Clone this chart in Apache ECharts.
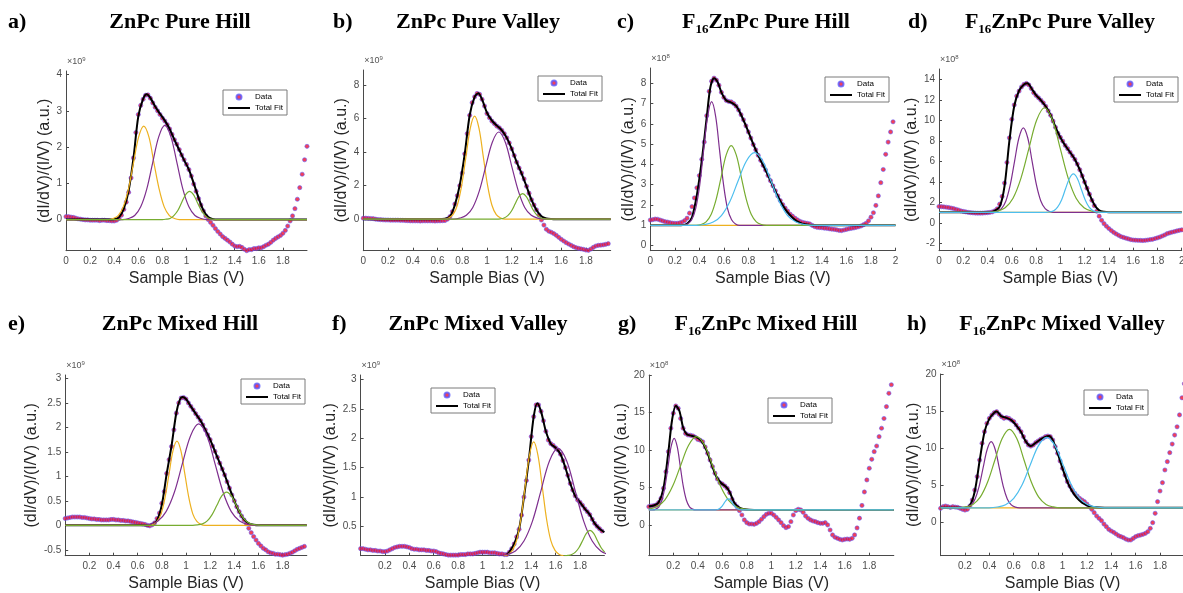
<!DOCTYPE html>
<html>
<head>
<meta charset="utf-8">
<title>ZnPc / F16ZnPc normalized dI/dV fits</title>
<script src="https://cdn.jsdelivr.net/npm/echarts@6.0.0/dist/echarts.min.js"></script>
<style>
  html, body { margin: 0; padding: 0; background: #fff; }
  #chart { width: 1183px; height: 593px; }
</style>
</head>
<body>
<div id="chart"></div>
<script>
// sample bias (V), shared by all measured spectra
const bias = [
  0.00, 0.02, 0.04, 0.06, 0.08, 0.10, 0.12, 0.14, 0.16, 0.18,
  0.20, 0.22, 0.24, 0.26, 0.28, 0.30, 0.32, 0.34, 0.36, 0.38,
  0.40, 0.42, 0.44, 0.46, 0.48, 0.50, 0.52, 0.54, 0.56, 0.58,
  0.60, 0.62, 0.64, 0.66, 0.68, 0.70, 0.72, 0.74, 0.76, 0.78,
  0.80, 0.82, 0.84, 0.86, 0.88, 0.90, 0.92, 0.94, 0.96, 0.98,
  1.00, 1.02, 1.04, 1.06, 1.08, 1.10, 1.12, 1.14, 1.16, 1.18,
  1.20, 1.22, 1.24, 1.26, 1.28, 1.30, 1.32, 1.34, 1.36, 1.38,
  1.40, 1.42, 1.44, 1.46, 1.48, 1.50, 1.52, 1.54, 1.56, 1.58,
  1.60, 1.62, 1.64, 1.66, 1.68, 1.70, 1.72, 1.74, 1.76, 1.78,
  1.80, 1.82, 1.84, 1.86, 1.88, 1.90, 1.92, 1.94, 1.96, 1.98,
  2.00
];

// a) ZnPc Pure Hill (x1e9)
const dataA = [
  0.08, 0.08, 0.07, 0.06, 0.04, 0.02, 0.01, 0.00, -0.01, -0.01,
  -0.02, -0.02, -0.02, -0.02, -0.03, -0.02, -0.02, -0.03, -0.03, -0.04,
  -0.04, -0.02, 0.03, 0.12, 0.28, 0.48, 0.75, 1.15, 1.7, 2.4,
  2.9, 3.15, 3.32, 3.43, 3.44, 3.35, 3.22, 3.1, 3.0, 2.9,
  2.8, 2.72, 2.62, 2.5, 2.35, 2.2, 2.08, 1.93, 1.78, 1.65,
  1.52, 1.38, 1.2, 0.98, 0.78, 0.58, 0.4, 0.24, 0.1, 0.0,
  -0.08, -0.16, -0.25, -0.33, -0.4, -0.47, -0.52, -0.57, -0.62, -0.68,
  -0.73, -0.75, -0.74, -0.77, -0.82, -0.86, -0.83, -0.83, -0.8, -0.8,
  -0.78, -0.78, -0.75, -0.71, -0.68, -0.63, -0.57, -0.52, -0.48, -0.44,
  -0.38, -0.3, -0.18, -0.04, 0.1, 0.3, 0.56, 0.88, 1.25, 1.65,
  2.02
];
const fitA = [[0, 0], [0.36, 0], [0.4, 0.01], [0.44, 0.06], [0.48, 0.3], [0.52, 0.8], [0.56, 1.7], [0.6, 2.85], [0.64, 3.33], [0.67, 3.46], [0.7, 3.36], [0.74, 3.12], [0.78, 2.92], [0.82, 2.73], [0.86, 2.5], [0.9, 2.2], [0.94, 1.92], [0.98, 1.64], [1.02, 1.38], [1.06, 1.0], [1.1, 0.6], [1.14, 0.26], [1.18, 0.07], [1.22, 0.01], [1.26, 0], [2, 0]];
const orangeA = [[0, 0], [0.35, 0], [0.39, 0.03], [0.433, 0.11], [0.475, 0.35], [0.518, 0.84], [0.56, 1.56], [0.603, 2.28], [0.645, 2.58], [0.688, 2.28], [0.73, 1.56], [0.773, 0.84], [0.815, 0.35], [0.858, 0.11], [0.9, 0.03], [0.94, 0], [2, 0]];
const purpleA = [[0, 0], [0.47, 0], [0.52, 0.03], [0.57, 0.11], [0.62, 0.35], [0.67, 0.84], [0.72, 1.58], [0.77, 2.29], [0.82, 2.6], [0.87, 2.29], [0.92, 1.58], [0.97, 0.84], [1.02, 0.35], [1.07, 0.11], [1.12, 0.03], [1.17, 0], [2, 0]];
const greenA = [[0, 0], [0.8, 0], [0.83, 0.01], [0.863, 0.03], [0.895, 0.11], [0.928, 0.25], [0.96, 0.47], [0.993, 0.69], [1.025, 0.78], [1.058, 0.69], [1.09, 0.47], [1.123, 0.25], [1.155, 0.11], [1.188, 0.03], [1.22, 0.01], [1.25, 0], [2, 0]];

// b) ZnPc Pure Valley (x1e9)
const dataB = [
  0.06, 0.06, 0.05, 0.04, 0.03, 0.0, -0.02, -0.03, -0.04, -0.05,
  -0.05, -0.06, -0.06, -0.06, -0.06, -0.07, -0.07, -0.08, -0.09, -0.1,
  -0.1, -0.1, -0.1, -0.11, -0.1, -0.1, -0.1, -0.1, -0.1, -0.11,
  -0.1, -0.1, -0.09, -0.08, 0.0, 0.15, 0.45, 0.9, 1.4, 2.0,
  2.75, 3.9, 5.1, 6.2, 6.95, 7.3, 7.5, 7.45, 7.15, 6.75,
  6.3, 6.05, 5.85, 5.7, 5.55, 5.45, 5.3, 5.1, 4.85, 4.55,
  4.2, 3.8, 3.4, 3.05, 2.75, 2.4, 1.96, 1.55, 1.16, 0.85,
  0.56, 0.25, -0.05, -0.35, -0.6, -0.72, -0.78, -0.86, -0.96, -1.08,
  -1.2, -1.3, -1.4, -1.48, -1.56, -1.64, -1.7, -1.74, -1.77, -1.8,
  -1.84, -1.86, -1.78, -1.68, -1.6, -1.56, -1.55, -1.53, -1.5, -1.46,
  null
];
const fitB = [[0, 0], [0.6, 0], [0.66, 0.02], [0.7, 0.15], [0.74, 0.85], [0.78, 2.05], [0.82, 3.9], [0.86, 6.2], [0.9, 7.3], [0.93, 7.52], [0.96, 7.15], [1.0, 6.35], [1.04, 5.88], [1.08, 5.58], [1.12, 5.3], [1.16, 4.85], [1.2, 4.2], [1.24, 3.4], [1.28, 2.72], [1.32, 1.95], [1.36, 1.15], [1.4, 0.55], [1.44, 0.18], [1.48, 0.05], [1.52, 0.01], [1.56, 0], [2, 0]];
const orangeB = [[0, 0], [0.655, 0], [0.69, 0.07], [0.725, 0.27], [0.76, 0.83], [0.795, 2.0], [0.83, 3.73], [0.865, 5.43], [0.9, 6.15], [0.935, 5.43], [0.97, 3.73], [1.005, 2.0], [1.04, 0.83], [1.075, 0.27], [1.11, 0.07], [1.145, 0], [2, 0]];
const purpleB = [[0, 0], [0.728, 0], [0.78, 0.06], [0.833, 0.23], [0.885, 0.7], [0.938, 1.69], [0.99, 3.15], [1.043, 4.59], [1.095, 5.2], [1.148, 4.59], [1.2, 3.15], [1.253, 1.69], [1.305, 0.7], [1.358, 0.23], [1.41, 0.06], [1.463, 0], [2, 0]];
const greenB = [[0, 0], [1.078, 0], [1.108, 0.02], [1.138, 0.07], [1.168, 0.21], [1.198, 0.49], [1.228, 0.92], [1.258, 1.34], [1.288, 1.52], [1.318, 1.34], [1.348, 0.92], [1.378, 0.49], [1.408, 0.21], [1.438, 0.07], [1.468, 0.02], [1.498, 0], [2, 0]];

// c) F16ZnPc Pure Hill (x1e8)
const dataC = [
  1.26, 1.28, 1.31, 1.3, 1.26, 1.22, 1.18, 1.16, 1.13, 1.11,
  1.1, 1.1, 1.12, 1.16, 1.23, 1.35, 1.6, 1.92, 2.35, 2.85,
  3.45, 4.25, 5.1, 6.4, 7.6, 8.1, 8.25, 8.15, 7.9, 7.55,
  7.3, 7.15, 7.1, 7.08, 7.0, 6.87, 6.68, 6.45, 6.2, 5.9,
  5.6, 5.3, 4.98, 4.72, 4.45, 4.2, 3.95, 3.72, 3.45, 3.2,
  2.95, 2.7, 2.45, 2.22, 2.02, 1.85, 1.7, 1.55, 1.45, 1.35,
  1.27, 1.2, 1.15, 1.12, 1.1, 1.07, 1.0, 0.94, 0.9, 0.89,
  0.88, 0.86, 0.85, 0.83, 0.81, 0.8, 0.78, 0.75, 0.74, 0.77,
  0.8, 0.83, 0.85, 0.87, 0.9, 0.93, 0.97, 1.03, 1.1, 1.22,
  1.4, 1.62, 1.98, 2.45, 3.1, 3.75, 4.5, 5.1, 5.6, 6.1,
  null
];
const fitC = [[0, 1], [0.25, 1.0], [0.3, 1.08], [0.34, 1.4], [0.38, 2.5], [0.42, 4.2], [0.46, 6.3], [0.49, 7.8], [0.52, 8.25], [0.55, 8.05], [0.58, 7.55], [0.62, 7.15], [0.66, 7.05], [0.7, 6.88], [0.74, 6.45], [0.78, 5.9], [0.82, 5.3], [0.86, 4.72], [0.9, 4.2], [0.94, 3.72], [0.98, 3.2], [1.02, 2.68], [1.06, 2.2], [1.1, 1.8], [1.14, 1.5], [1.18, 1.27], [1.22, 1.13], [1.26, 1.05], [1.3, 1.02], [1.35, 1.0], [2, 1]];
const orangeC = [[0, 1], [2, 1]];
const purpleC = [[0, 1], [0.27, 1], [0.305, 1.07], [0.338, 1.27], [0.37, 1.82], [0.403, 2.98], [0.435, 4.69], [0.468, 6.37], [0.5, 7.09], [0.533, 6.37], [0.565, 4.69], [0.598, 2.98], [0.63, 1.82], [0.663, 1.27], [0.695, 1.07], [0.73, 1], [2, 1]];
const greenC = [[0, 1], [0.373, 1], [0.414, 1.04], [0.455, 1.17], [0.496, 1.53], [0.537, 2.28], [0.578, 3.38], [0.619, 4.47], [0.66, 4.93], [0.701, 4.47], [0.742, 3.38], [0.783, 2.28], [0.824, 1.53], [0.865, 1.17], [0.906, 1.04], [0.947, 1], [2, 1]];
const cyanC = [[0, 1], [0.378, 1], [0.445, 1.04], [0.513, 1.16], [0.58, 1.48], [0.648, 2.16], [0.715, 3.17], [0.783, 4.16], [0.85, 4.58], [0.918, 4.16], [0.985, 3.17], [1.053, 2.16], [1.12, 1.48], [1.188, 1.16], [1.255, 1.04], [1.323, 1], [2, 1]];

// d) F16ZnPc Pure Valley (x1e8)
const dataD = [
  1.62, 1.6, 1.58, 1.55, 1.52, 1.47, 1.42, 1.35, 1.28, 1.2,
  1.14, 1.1, 1.05, 1.02, 1.0, 0.98, 0.97, 0.97, 0.98, 1.0,
  1.02, 1.05, 1.1, 1.2, 1.4, 1.85, 2.6, 3.9, 5.9, 8.3,
  10.1, 11.5, 12.37, 12.85, 13.25, 13.5, 13.6, 13.45, 13.1, 12.7,
  12.42, 12.2, 11.96, 11.7, 11.36, 10.93, 10.5, 9.93, 9.33, 8.74,
  8.35, 7.98, 7.56, 7.25, 6.9, 6.55, 6.2, 5.75, 5.2, 4.6,
  4.0, 3.4, 2.82, 2.22, 1.7, 1.16, 0.68, 0.28, -0.05, -0.3,
  -0.52, -0.72, -0.9, -1.05, -1.18, -1.31, -1.39, -1.46, -1.53, -1.6,
  -1.64, -1.66, -1.67, -1.68, -1.69, -1.67, -1.64, -1.6, -1.57, -1.5,
  -1.43, -1.35, -1.25, -1.15, -1.02, -0.95, -0.88, -0.82, -0.76, -0.7,
  -0.65
];
const fitD = [[0, 1.05], [0.4, 1.05], [0.45, 1.15], [0.5, 1.6], [0.54, 3.6], [0.58, 8.0], [0.62, 11.4], [0.66, 12.9], [0.7, 13.5], [0.73, 13.62], [0.76, 13.15], [0.8, 12.45], [0.84, 11.95], [0.88, 11.35], [0.92, 10.5], [0.96, 9.35], [1.0, 8.35], [1.04, 7.55], [1.08, 6.9], [1.12, 6.2], [1.16, 5.2], [1.2, 4.0], [1.24, 2.8], [1.28, 1.8], [1.32, 1.25], [1.36, 1.1], [1.4, 1.06], [2, 1.05]];
const orangeD = [[0, 1.05], [2, 1.05]];
const purpleD = [[0, 1.05], [0.443, 1.05], [0.479, 1.14], [0.515, 1.41], [0.551, 2.16], [0.587, 3.72], [0.623, 6.04], [0.659, 8.31], [0.695, 9.28], [0.731, 8.31], [0.767, 6.04], [0.803, 3.72], [0.839, 2.16], [0.875, 1.41], [0.911, 1.14], [0.947, 1.05], [2, 1.05]];
const greenD = [[0, 1.05], [0.415, 1.05], [0.48, 1.16], [0.545, 1.5], [0.61, 2.43], [0.675, 4.36], [0.74, 7.22], [0.805, 10.03], [0.87, 11.23], [0.935, 10.03], [1.0, 7.22], [1.065, 4.36], [1.13, 2.43], [1.195, 1.5], [1.26, 1.16], [1.325, 1.05], [2, 1.05]];
const cyanD = [[0, 1.05], [0.88, 1.05], [0.912, 1.09], [0.945, 1.21], [0.977, 1.56], [1.01, 2.26], [1.042, 3.32], [1.075, 4.35], [1.107, 4.79], [1.14, 4.35], [1.172, 3.32], [1.205, 2.26], [1.237, 1.56], [1.27, 1.21], [1.302, 1.09], [1.335, 1.05], [2, 1.05]];

// e) ZnPc Mixed Hill (x1e9)
const dataE = [
  0.14, 0.15, 0.16, 0.17, 0.17, 0.17, 0.17, 0.16, 0.16, 0.15,
  0.14, 0.13, 0.13, 0.12, 0.12, 0.11, 0.11, 0.11, 0.11, 0.12,
  0.12, 0.11, 0.11, 0.1, 0.1, 0.09, 0.09, 0.08, 0.07, 0.06,
  0.05, 0.04, 0.03, 0.02, 0.0, -0.01, 0.01, 0.05, 0.14, 0.25,
  0.45, 0.69, 1.06, 1.34, 1.61, 1.95, 2.29, 2.5, 2.6, 2.61,
  2.58, 2.5, 2.43, 2.36, 2.28, 2.21, 2.14, 2.05, 1.95, 1.85,
  1.75, 1.62, 1.51, 1.39, 1.27, 1.15, 1.03, 0.89, 0.76, 0.62,
  0.5, 0.38, 0.28, 0.19, 0.11, 0.03, -0.06, -0.15, -0.23, -0.3,
  -0.37, -0.42, -0.47, -0.5, -0.54, -0.56, -0.57, -0.59, -0.59, -0.6,
  -0.61, -0.6, -0.59, -0.57, -0.55, -0.52, -0.49, -0.47, -0.45, -0.43,
  null
];
const fitE = [[0, 0], [0.68, 0], [0.72, 0.02], [0.76, 0.1], [0.8, 0.42], [0.84, 1.05], [0.88, 1.62], [0.92, 2.3], [0.95, 2.57], [0.97, 2.62], [1.0, 2.58], [1.04, 2.43], [1.08, 2.28], [1.12, 2.14], [1.16, 1.95], [1.2, 1.75], [1.24, 1.51], [1.28, 1.27], [1.32, 1.03], [1.36, 0.76], [1.4, 0.5], [1.44, 0.28], [1.48, 0.12], [1.52, 0.04], [1.56, 0.01], [1.6, 0], [2, 0]];
const orangeE = [[0, 0], [0.694, 0], [0.727, 0.02], [0.76, 0.08], [0.793, 0.23], [0.826, 0.56], [0.859, 1.04], [0.892, 1.52], [0.925, 1.72], [0.958, 1.52], [0.991, 1.04], [1.024, 0.56], [1.057, 0.23], [1.09, 0.08], [1.123, 0.02], [1.156, 0], [2, 0]];
const purpleE = [[0, 0], [0.633, 0], [0.7, 0.02], [0.768, 0.09], [0.835, 0.28], [0.903, 0.67], [0.97, 1.26], [1.038, 1.83], [1.105, 2.07], [1.173, 1.83], [1.24, 1.26], [1.308, 0.67], [1.375, 0.28], [1.443, 0.09], [1.51, 0.02], [1.578, 0], [2, 0]];
const greenE = [[0, 0], [1.056, 0], [1.096, 0.01], [1.136, 0.03], [1.176, 0.09], [1.216, 0.22], [1.256, 0.41], [1.296, 0.6], [1.336, 0.68], [1.376, 0.6], [1.416, 0.41], [1.456, 0.22], [1.496, 0.09], [1.536, 0.03], [1.576, 0.01], [1.616, 0], [2, 0]];

// f) ZnPc Mixed Valley (x1e9)
const dataF = [
  0.12, 0.12, 0.11, 0.1, 0.1, 0.09, 0.09, 0.08, 0.08, 0.07,
  0.07, 0.08, 0.1, 0.12, 0.14, 0.15, 0.16, 0.16, 0.16, 0.15,
  0.14, 0.12, 0.11, 0.11, 0.1, 0.1, 0.1, 0.09, 0.09, 0.08,
  0.08, 0.07, 0.05, 0.04, 0.03, 0.02, 0.01, 0.01, 0.01, 0.01,
  0.01, 0.02, 0.02, 0.02, 0.03, 0.03, 0.03, 0.04, 0.05, 0.06,
  0.06, 0.06, 0.06, 0.05, 0.05, 0.05, 0.04, 0.03, 0.03, 0.02,
  0.02, 0.06, 0.12, 0.2, 0.32, 0.45, 0.69, 1.0, 1.28, 1.63,
  2.03, 2.37, 2.57, 2.57, 2.46, 2.3, 2.12, 1.97, 1.91, 1.88,
  1.84, 1.8, 1.73, 1.62, 1.5, 1.37, 1.23, 1.12, 1.02, 0.95,
  0.91, 0.86, 0.8, 0.75, 0.7, 0.62, 0.55, 0.5, 0.46, 0.42,
  null
];
const fitF = [[1.2, 0.02], [1.22, 0.06], [1.26, 0.2], [1.3, 0.45], [1.34, 1.0], [1.38, 1.63], [1.42, 2.37], [1.45, 2.6], [1.48, 2.46], [1.52, 2.12], [1.56, 1.91], [1.6, 1.84], [1.64, 1.73], [1.68, 1.5], [1.72, 1.23], [1.76, 1.02], [1.8, 0.91], [1.84, 0.8], [1.88, 0.7], [1.92, 0.55], [1.96, 0.46], [2, 0.4]];
const orangeF = [[1.175, 0], [1.21, 0.02], [1.245, 0.09], [1.28, 0.26], [1.315, 0.63], [1.35, 1.18], [1.385, 1.71], [1.42, 1.94], [1.455, 1.71], [1.49, 1.18], [1.525, 0.63], [1.56, 0.26], [1.595, 0.09], [1.63, 0.02], [1.665, 0]];
const purpleF = [[1.13, 0], [1.2, 0.02], [1.27, 0.08], [1.34, 0.25], [1.41, 0.59], [1.48, 1.11], [1.55, 1.62], [1.62, 1.83], [1.69, 1.62], [1.76, 1.11], [1.83, 0.59], [1.9, 0.25], [1.97, 0.08], [2.04, 0.02]];
const greenF = [[1.67, 0], [1.702, 0.005], [1.732, 0.02], [1.762, 0.06], [1.792, 0.14], [1.822, 0.26], [1.852, 0.38], [1.882, 0.43], [1.912, 0.38], [1.942, 0.26], [1.972, 0.14], [2.002, 0.06]];

// g) F16ZnPc Mixed Hill (x1e8)
const dataG = [
  2.44, 2.53, 2.58, 2.67, 2.98, 3.56, 4.89, 7.1, 9.78, 12.9,
  14.9, 15.87, 15.56, 14.2, 12.9, 12.2, 12.0, 11.96, 11.87, 11.7,
  11.4, 11.3, 11.1, 10.4, 9.56, 8.67, 7.78, 6.9, 6.13, 5.64,
  5.47, 5.2, 4.89, 4.31, 3.42, 2.8, 2.44, 1.91, 1.33, 0.67,
  0.31, 0.13, 0.13, 0.09, 0.22, 0.44, 0.76, 1.11, 1.42, 1.56,
  1.56, 1.33, 1.02, 0.67, 0.31, -0.09, -0.36, -0.22, 0.44, 1.33,
  1.91, 2.09, 2.0, 1.69, 1.2, 0.89, 0.67, 0.53, 0.44, 0.31,
  0.22, 0.22, 0.31, 0.0, -0.67, -1.33, -1.64, -1.78, -1.91, -2.0,
  -1.91, -1.87, -1.91, -1.78, -1.33, -0.4, 0.9, 2.6, 4.4, 6.0,
  7.56, 8.76, 9.78, 10.53, 11.78, 12.9, 14.2, 15.78, 17.56, 18.7,
  null
];
const fitG = [[0, 2.5], [0.04, 2.6], [0.08, 3.0], [0.12, 4.9], [0.16, 9.8], [0.19, 14.0], [0.22, 15.9], [0.25, 15.2], [0.28, 13.0], [0.31, 12.1], [0.35, 11.9], [0.39, 11.7], [0.43, 11.2], [0.47, 10.0], [0.51, 8.2], [0.55, 6.5], [0.59, 5.6], [0.63, 5.1], [0.66, 4.4], [0.7, 2.9], [0.74, 2.3], [0.78, 2.1], [0.82, 2.02], [0.86, 2], [2, 2]];
const orangeG = [[0, 2], [2, 2]];
const purpleG = [[0, 2], [0.032, 2], [0.057, 2.11], [0.082, 2.42], [0.107, 3.29], [0.132, 5.1], [0.157, 7.8], [0.182, 10.44], [0.207, 11.56], [0.232, 10.44], [0.257, 7.8], [0.282, 5.1], [0.307, 3.29], [0.332, 2.42], [0.357, 2.11], [0.382, 2], [2, 2]];
const greenG = [[0, 2.11], [0.065, 2.43], [0.13, 3.32], [0.195, 5.18], [0.26, 7.93], [0.325, 10.63], [0.39, 11.78], [0.455, 10.63], [0.52, 7.93], [0.585, 5.18], [0.65, 3.32], [0.715, 2.43], [0.78, 2.11], [0.845, 2], [2, 2]];
const cyanG = [[0, 2], [0.527, 2], [0.544, 2.02], [0.562, 2.06], [0.579, 2.2], [0.597, 2.48], [0.614, 2.89], [0.632, 3.3], [0.649, 3.47], [0.667, 3.3], [0.684, 2.89], [0.702, 2.48], [0.719, 2.2], [0.737, 2.06], [0.754, 2.02], [0.772, 2], [2, 2]];

// h) F16ZnPc Mixed Valley (x1e8)
const dataH = [
  1.93, 2.15, 2.24, 2.15, 2.06, 2.15, 2.1, 2.06, 1.93, 1.8,
  1.7, 1.8, 2.24, 3.05, 4.39, 6.19, 8.43, 10.67, 12.24, 13.36,
  14.04, 14.48, 14.8, 14.93, 14.57, 14.26, 14.04, 14.13, 14.04, 13.8,
  13.6, 13.14, 12.7, 12.24, 11.57, 10.9, 10.45, 10.3, 10.45, 10.76,
  10.99, 11.2, 11.35, 11.57, 11.66, 11.57, 11.12, 10.22, 9.33, 8.3,
  7.31, 6.41, 5.52, 4.93, 4.39, 3.95, 3.59, 3.27, 3.05, 2.83,
  2.51, 2.15, 1.8, 1.35, 0.9, 0.58, 0.27, -0.18, -0.54, -0.9,
  -1.12, -1.3, -1.52, -1.75, -1.88, -2.02, -2.2, -2.33, -2.33, -2.11,
  -1.88, -1.75, -1.66, -1.57, -1.43, -1.21, -0.76, 0.0, 1.26, 2.83,
  4.26, 5.38, 7.09, 8.21, 9.42, 10.58, 11.79, 12.9, 14.5, 16.8,
  18.7
];
const fitH = [[0, 2.0], [0.2, 2.0], [0.24, 2.3], [0.28, 4.2], [0.32, 8.3], [0.36, 12.2], [0.4, 14.0], [0.44, 14.8], [0.46, 14.95], [0.5, 14.3], [0.54, 14.1], [0.58, 13.8], [0.62, 13.1], [0.66, 12.2], [0.7, 10.9], [0.74, 10.3], [0.78, 10.75], [0.82, 11.2], [0.86, 11.55], [0.89, 11.65], [0.92, 11.1], [0.96, 9.35], [1.0, 7.3], [1.04, 5.5], [1.08, 4.2], [1.12, 3.3], [1.16, 2.7], [1.2, 2.35], [1.24, 2.15], [1.3, 2.04], [1.4, 2.0], [2, 2.0]];
const orangeH = [[0, 2], [2, 2]];
const purpleH = [[0, 2], [0.184, 2], [0.217, 2.1], [0.25, 2.39], [0.283, 3.2], [0.316, 4.89], [0.349, 7.4], [0.382, 9.85], [0.415, 10.9], [0.448, 9.85], [0.481, 7.4], [0.514, 4.89], [0.547, 3.2], [0.58, 2.39], [0.613, 2.1], [0.646, 2], [2, 2]];
const greenH = [[0, 2], [0.145, 2], [0.205, 2.12], [0.265, 2.46], [0.325, 3.43], [0.385, 5.43], [0.445, 8.4], [0.505, 11.32], [0.565, 12.56], [0.625, 11.32], [0.685, 8.4], [0.745, 5.43], [0.805, 3.43], [0.865, 2.46], [0.925, 2.12], [0.985, 2], [2, 2]];
const cyanH = [[0, 2], [0.398, 2], [0.465, 2.11], [0.533, 2.42], [0.6, 3.28], [0.668, 5.08], [0.735, 7.75], [0.803, 10.37], [0.87, 11.48], [0.938, 10.37], [1.005, 7.75], [1.073, 5.08], [1.14, 3.28], [1.208, 2.42], [1.275, 2.11], [1.343, 2], [2, 2]];

// tick labels
const xTicksAll = [0, 0.2, 0.4, 0.6, 0.8, 1, 1.2, 1.4, 1.6, 1.8, 2];
const xTicksNoEnd = [0, 0.2, 0.4, 0.6, 0.8, 1, 1.2, 1.4, 1.6, 1.8];
const xTicksInner = [0.2, 0.4, 0.6, 0.8, 1, 1.2, 1.4, 1.6, 1.8];
const yTicksA = [0, 1, 2, 3, 4];
const yTicksB = [0, 2, 4, 6, 8];
const yTicksC = [0, 1, 2, 3, 4, 5, 6, 7, 8];
const yTicksD = [-2, 0, 2, 4, 6, 8, 10, 12, 14];
const yTicksE = [-0.5, 0, 0.5, 1, 1.5, 2, 2.5, 3];
const yTicksF = [0.5, 1, 1.5, 2, 2.5, 3];
const yTicksGH = [0, 5, 10, 15, 20];

const ORANGE = '#EDB120';
const PURPLE = '#7E2F8E';
const GREEN = '#77AC30';
const CYAN = '#4DBEEE';
const SANS = 'Arial, "Liberation Sans", Helvetica, sans-serif';
const SERIF = '"Times New Roman", "Liberation Serif", serif';

const panels = [
  { tag: 'a)', title: 'ZnPc Pure Hill', f16: false, exp: 9, data: dataA, fit: fitA, parts: [[orangeA, ORANGE], [purpleA, PURPLE], [greenA, GREEN]], xTicks: xTicksNoEnd, yTicks: yTicksA },
  { tag: 'b)', title: 'ZnPc Pure Valley', f16: false, exp: 9, data: dataB, fit: fitB, parts: [[orangeB, ORANGE], [purpleB, PURPLE], [greenB, GREEN]], xTicks: xTicksNoEnd, yTicks: yTicksB },
  { tag: 'c)', title: 'ZnPc Pure Hill', f16: true, exp: 8, data: dataC, fit: fitC, parts: [[orangeC, ORANGE], [purpleC, PURPLE], [greenC, GREEN], [cyanC, CYAN]], xTicks: xTicksAll, yTicks: yTicksC },
  { tag: 'd)', title: 'ZnPc Pure Valley', f16: true, exp: 8, data: dataD, fit: fitD, parts: [[orangeD, ORANGE], [purpleD, PURPLE], [greenD, GREEN], [cyanD, CYAN]], xTicks: xTicksAll, yTicks: yTicksD },
  { tag: 'e)', title: 'ZnPc Mixed Hill', f16: false, exp: 9, data: dataE, fit: fitE, parts: [[orangeE, ORANGE], [purpleE, PURPLE], [greenE, GREEN]], xTicks: xTicksInner, yTicks: yTicksE },
  { tag: 'f)', title: 'ZnPc Mixed Valley', f16: false, exp: 9, data: dataF, fit: fitF, parts: [[orangeF, ORANGE], [purpleF, PURPLE], [greenF, GREEN]], xTicks: xTicksInner, yTicks: yTicksF },
  { tag: 'g)', title: 'ZnPc Mixed Hill', f16: true, exp: 8, data: dataG, fit: fitG, parts: [[orangeG, ORANGE], [purpleG, PURPLE], [greenG, GREEN], [cyanG, CYAN]], xTicks: xTicksInner, yTicks: yTicksGH },
  { tag: 'h)', title: 'ZnPc Mixed Valley', f16: true, exp: 8, data: dataH, fit: fitH, parts: [[orangeH, ORANGE], [purpleH, PURPLE], [greenH, GREEN], [cyanH, CYAN]], xTicks: xTicksInner, yTicks: yTicksGH }
];

// layout: plot box [left, top, width, height], y limits, y-name gap, title centre, tag x, legend corner
const frames = [
  { box: [66, 71, 241, 179.7], y: [-0.86, 4.1], gap: 11, tx: 180, ty: 22, tagX: 8, leg: [223, 90] },
  { box: [363.3, 70, 247.4, 180.7], y: [-1.88, 8.9], gap: 10, tx: 478, ty: 22, tagX: 333, leg: [538, 76] },
  { box: [650.3, 68, 245.2, 182.7], y: [-0.25, 8.75], gap: 7, tx: 766, ty: 22, tagX: 617, leg: [825, 77] },
  { box: [939, 69, 242.7, 181.7], y: [-2.68, 15.0], gap: 12, tx: 1060, ty: 22, tagX: 908, leg: [1114, 77] },
  { box: [65.2, 375, 241.6, 180.7], y: [-0.62, 3.07], gap: 20, tx: 180, ty: 324, tagX: 8, leg: [241, 379] },
  { box: [360.6, 375, 243.8, 180.7], y: [0, 3.08], gap: 15, tx: 478, ty: 324, tagX: 332, leg: [431, 388] },
  { box: [648.8, 375, 245, 180.7], y: [-4.1, 20], gap: 14, tx: 766, ty: 324, tagX: 618, leg: [768, 398] },
  { box: [940.6, 374, 243.8, 181.7], y: [-4.44, 20], gap: 16, tx: 1062, ty: 324, tagX: 907, leg: [1084, 390] }
];

const axisGrey = '#4a4a4a';
const labelGrey = '#4d4d4d';

const grid = [], xAxis = [], yAxis = [], series = [], legend = [], graphic = [];

panels.forEach((p, i) => {
  const f = frames[i];
  grid.push({ left: f.box[0], top: f.box[1], width: f.box[2], height: f.box[3], containLabel: false, outerBoundsMode: 'none' });

  xAxis.push({
    gridIndex: i, type: 'value', min: 0, max: 2,
    axisLine: { show: true, onZero: false, lineStyle: { color: axisGrey, width: 1 } },
    axisTick: { show: true, inside: true, length: 3, customValues: p.xTicks, lineStyle: { color: axisGrey } },
    axisLabel: { customValues: p.xTicks, fontSize: 10, color: labelGrey, fontFamily: SANS, margin: 6 },
    splitLine: { show: false },
    name: 'Sample Bias (V)', nameLocation: 'middle', nameGap: 20,
    nameTextStyle: { fontSize: 16, color: '#262626', fontFamily: SANS }
  });
  yAxis.push({
    gridIndex: i, type: 'value', min: f.y[0], max: f.y[1],
    axisLine: { show: true, onZero: false, lineStyle: { color: axisGrey, width: 1 } },
    axisTick: { show: true, inside: true, length: 3, customValues: p.yTicks, lineStyle: { color: axisGrey } },
    axisLabel: { customValues: p.yTicks, fontSize: 10, color: labelGrey, fontFamily: SANS, margin: 4 },
    splitLine: { show: false },
    name: '(dI/dV)/(I/V) (a.u.)', nameLocation: 'middle', nameRotate: 90, nameGap: f.gap,
    nameTextStyle: { fontSize: 16, color: '#262626', fontFamily: SANS }
  });

  const pts = [];
  bias.forEach((x, k) => { if (p.data[k] != null) pts.push([x, p.data[k]]); });
  series.push({
    name: 'Data', type: 'scatter', xAxisIndex: i, yAxisIndex: i, data: pts,
    symbol: 'circle', symbolSize: 4.2, silent: true,
    itemStyle: { color: '#ee1030', borderColor: '#5a5aff', borderWidth: 0.7 }
  });
  series.push({
    name: 'Total Fit', type: 'line', xAxisIndex: i, yAxisIndex: i, data: p.fit,
    showSymbol: false, symbol: 'none', smooth: 0.3, silent: true,
    lineStyle: { color: '#000', width: 2 },
    itemStyle: { color: 'rgba(0,0,0,0)', borderColor: 'rgba(0,0,0,0)', borderWidth: 0 }
  });
  p.parts.forEach(([comp, color], j) => {
    series.push({
      name: 'peak' + i + '_' + j, type: 'line', xAxisIndex: i, yAxisIndex: i, data: comp,
      showSymbol: false, symbol: 'none', smooth: 0.35, silent: true,
      lineStyle: { color, width: 1.2 }
    });
  });

  legend.push({
    left: f.leg[0], top: f.leg[1], orient: 'vertical', data: ['Data', 'Total Fit'],
    itemWidth: 22, itemHeight: 5, itemGap: 3, padding: [3, 4, 3, 4],
    borderColor: '#7a7a7a', borderWidth: 1, backgroundColor: '#fff',
    textStyle: { fontSize: 8, color: '#000', fontFamily: SANS },
    selectedMode: false
  });

  // panel tag and bold serif title
  graphic.push({
    type: 'text', x: f.tagX, y: f.ty, silent: true,
    style: { text: p.tag, font: 'bold 22px ' + SERIF, fill: '#000', textVerticalAlign: 'middle' }
  });
  graphic.push({
    type: 'text', x: f.tx, y: f.ty, silent: true,
    style: {
      text: (p.f16 ? '{m|F}{s|16}' : '') + '{m|' + p.title + '}',
      textAlign: 'center', textVerticalAlign: 'middle',
      rich: {
        m: { fontFamily: SERIF, fontWeight: 'bold', fontSize: 22, fill: '#000' },
        s: { fontFamily: SERIF, fontWeight: 'bold', fontSize: 13, fill: '#000', padding: [16, 0, 0, 0] }
      }
    }
  });
  // axis exponent
  graphic.push({
    type: 'text', x: f.box[0] + 1, y: f.box[1] - 3, silent: true,
    style: {
      text: '{b|\u00d710}{p|' + p.exp + '}', textVerticalAlign: 'bottom',
      rich: {
        b: { fontFamily: SANS, fontSize: 9, fill: '#555' },
        p: { fontFamily: SANS, fontSize: 6, fill: '#555', padding: [0, 0, 6, 0] }
      }
    }
  });
});

const chart = echarts.init(document.getElementById('chart'));
chart.setOption({
  animation: false,
  backgroundColor: '#fff',
  grid, xAxis, yAxis, series, legend, graphic
});
</script>
</body>
</html>
